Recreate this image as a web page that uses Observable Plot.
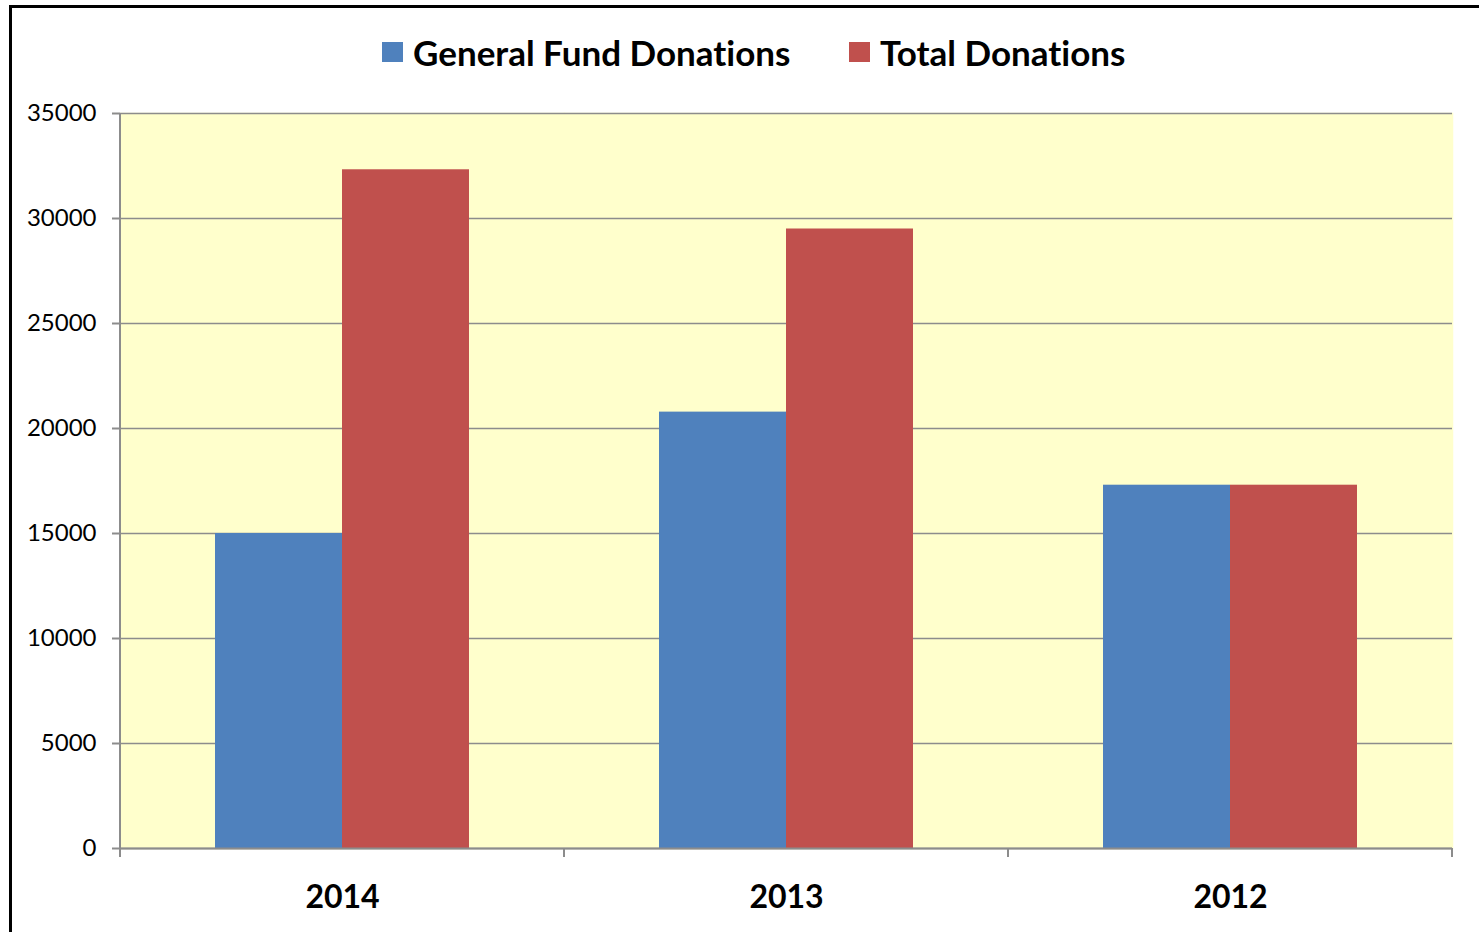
<!DOCTYPE html>
<html><head><meta charset="utf-8">
<script src="https://cdn.jsdelivr.net/npm/d3@7"></script>
<script src="https://cdn.jsdelivr.net/npm/@observablehq/plot@0.6"></script>
<style>
html,body{margin:0;padding:0;background:#fff;overflow:hidden;width:1479px;height:932px;}
#frame{position:absolute;left:9px;top:5px;width:2000px;height:2000px;border-top:3px solid #000;border-left:3px solid #000;}
.item{position:absolute;top:30px;height:44px;display:flex;align-items:center;font-family:Lato;font-weight:bold;font-size:35px;color:#000;white-space:nowrap;font-variant-ligatures:none;font-feature-settings:"liga" 0;}
.sw{width:21px;height:20px;display:inline-block;margin-right:10px;}
#chart{position:absolute;left:0;top:90px;}
</style></head><body>
<div id="frame"></div>
<div id="legend"></div>
<div id="chart"></div>
<script>
const years = ["2014", "2013", "2012"];
const seriesNames = ["General Fund Donations", "Total Donations"];
const generalFund = [15000, 20780, 17300];
const totalDonations = [32320, 29500, 17300];
const yTicks = [0, 5000, 10000, 15000, 20000, 25000, 30000, 35000];
const colors = ["#4F81BD", "#C0504D"];
const legendLeft = [382, 849];

const data = years.flatMap((y, i) => [
  {year: y, series: seriesNames[0], value: generalFund[i]},
  {year: y, series: seriesNames[1], value: totalDonations[i]}
]);

// legend
const legend = document.getElementById("legend");
seriesNames.forEach((s, i) => {
  const it = document.createElement("div");
  it.className = "item";
  it.style.left = legendLeft[i] + "px";
  it.innerHTML = `<span class="sw" style="background:${colors[i]}"></span><span>${s}</span>`;
  legend.appendChild(it);
});

const gray = "#8c8c8c";
const bg = "#FFFFCC";
const chart = Plot.plot({
  width: 1479, height: 842,
  marginLeft: 120, marginRight: 27, marginTop: 23, marginBottom: 84,
  style: {fontFamily: "Lato", background: "transparent", overflow: "visible"},
  fx: {domain: years, padding: 0, label: null},
  x: {domain: seriesNames, paddingInner: 0, paddingOuter: 0.748, axis: null},
  y: {domain: [0, 35000], label: null},
  color: {domain: seriesNames, range: colors},
  marks: [
    Plot.frame({fill: bg, stroke: bg, strokeWidth: 1.5}),
    Plot.gridY(yTicks, {stroke: gray, strokeOpacity: 1, strokeWidth: 1.5}),
    Plot.barY(data, {fx: "year", x: "series", y: "value", fill: "series"}),
    Plot.ruleY([0], {stroke: gray, strokeWidth: 2}),
    Plot.axisY(yTicks, {anchor: "left", tickSize: 8, tickPadding: 16, stroke: gray, strokeWidth: 2, fill: "#000", fontSize: 24, tickFormat: d3.format("d"), label: null}),
    Plot.axisFx({anchor: "bottom", tickSize: 0, tickPadding: 37, fontSize: 32, fontWeight: "bold", fill: "#000", label: null})
  ]
});

// category boundary ticks and vertical axis line, from the scales
const fx = chart.scale("fx");
const ys = chart.scale("y");
const bounds = years.map(y => fx.apply(y));
bounds.push(bounds[bounds.length - 1] + fx.bandwidth);
const y0 = ys.apply(0), yTop = ys.apply(35000);
const g = d3.select(chart).append("g").attr("stroke", gray).attr("stroke-width", 2);
g.append("line").attr("x1", bounds[0]).attr("x2", bounds[0]).attr("y1", yTop).attr("y2", y0);
bounds.forEach(b => {
  g.append("line").attr("x1", b).attr("x2", b).attr("y1", y0).attr("y2", y0 + 9);
});

document.getElementById("chart").appendChild(chart);
</script>
</body></html>
